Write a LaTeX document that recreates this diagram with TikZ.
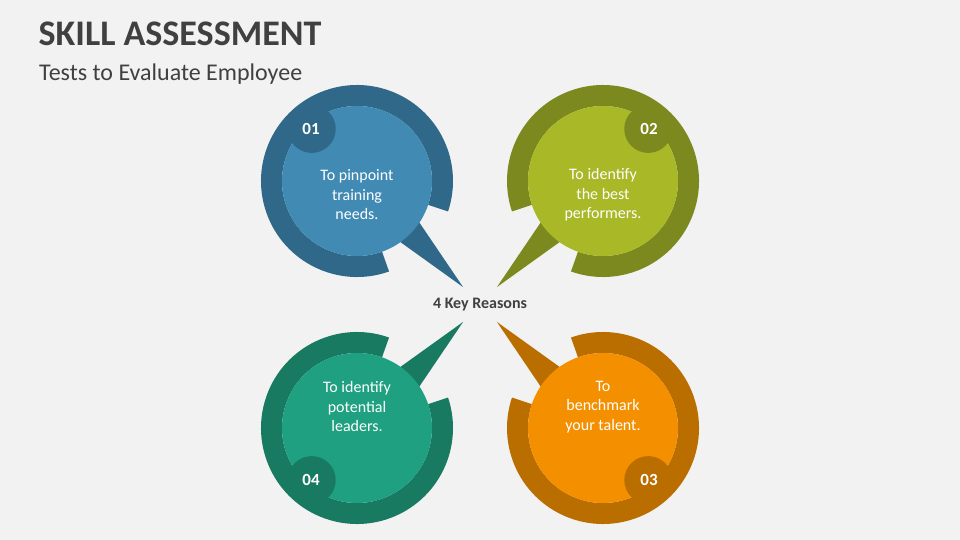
\documentclass[tikz,border=0pt]{standalone}
\usepackage{fontspec}
\setmainfont{Carlito}
\definecolor{bg}{HTML}{F2F2F2}
\definecolor{txtdark}{HTML}{404040}
\definecolor{bluedark}{HTML}{2F6888}
\definecolor{bluelight}{HTML}{408AB4}
\definecolor{greendark}{HTML}{7C891E}
\definecolor{greenlight}{HTML}{A8B826}
\definecolor{tealdark}{HTML}{197A62}
\definecolor{teallight}{HTML}{1FA181}
\definecolor{orangedark}{HTML}{BB6E00}
\definecolor{orangelight}{HTML}{F49000}
\newcommand\mybubble[2]{%
  \fill[#1] (70.5:96) arc[start angle=70.5,end angle=378.5,radius=96]
     -- (378.5:75) arc[start angle=378.5,end angle=70.5,radius=75] -- cycle;
  \fill[#1] (32:70) -- (45:150) -- (56:70) -- cycle;
  \fill[#2] (0,0) circle[radius=75];
  \fill[#1] (229:69) circle[radius=24];
}
\begin{document}
\begin{tikzpicture}[x=1pt,y=1pt,yscale=-1,
  numtxt/.style={text=white,font=\fontsize{17}{20}\selectfont\bfseries,inner sep=0pt},
  bodytxt/.style={text=white,font=\fontsize{16}{19.5}\selectfont,align=center,inner sep=0pt},
  titletxt/.style={text=txtdark,font=\fontsize{36}{43}\selectfont\bfseries,inner sep=0pt,anchor=base west},
  subtxt/.style={text=txtdark,font=\fontsize{24}{29}\selectfont,inner sep=0pt,anchor=base west},
  keytxt/.style={text=txtdark,font=\fontsize{16}{19}\selectfont\bfseries,inner sep=0pt,anchor=base}]
\fill[bg] (0,0) rectangle (960,540);
\useasboundingbox (0,0) rectangle (960,540);
\begin{scope}[shift={(357,181)}]\mybubble{bluedark}{bluelight}\end{scope}
\begin{scope}[shift={(603,181)},xscale=-1]\mybubble{greendark}{greenlight}\end{scope}
\begin{scope}[shift={(357,428)},yscale=-1]\mybubble{tealdark}{teallight}\end{scope}
\begin{scope}[shift={(603,428)},xscale=-1,yscale=-1]\mybubble{orangedark}{orangelight}\end{scope}
\node[numtxt] (n01) at (311,129) {01};
\node[numtxt] (n02) at (649,129) {02};
\node[numtxt] (n04) at (311,480) {04};
\node[numtxt] (n03) at (649,480) {03};
\node[bodytxt] (t1) at (357,195) {To pinpoint\\training\\needs.};
\node[bodytxt] (t2) at (603,195) {To identify\\the best\\performers.};
\node[bodytxt] (t4) at (357,407) {To identify\\potential\\leaders.};
\node[bodytxt] (t3) at (603,407) {To\\benchmark\\your talent.};
\node[keytxt] (key) at (480,308.3) {4 Key Reasons};
\node[titletxt] (title) at (38.5,45.5) {SKILL ASSESSMENT};
\node[subtxt] (sub) at (39,81) {Tests to Evaluate Employee};
\end{tikzpicture}
\end{document}
